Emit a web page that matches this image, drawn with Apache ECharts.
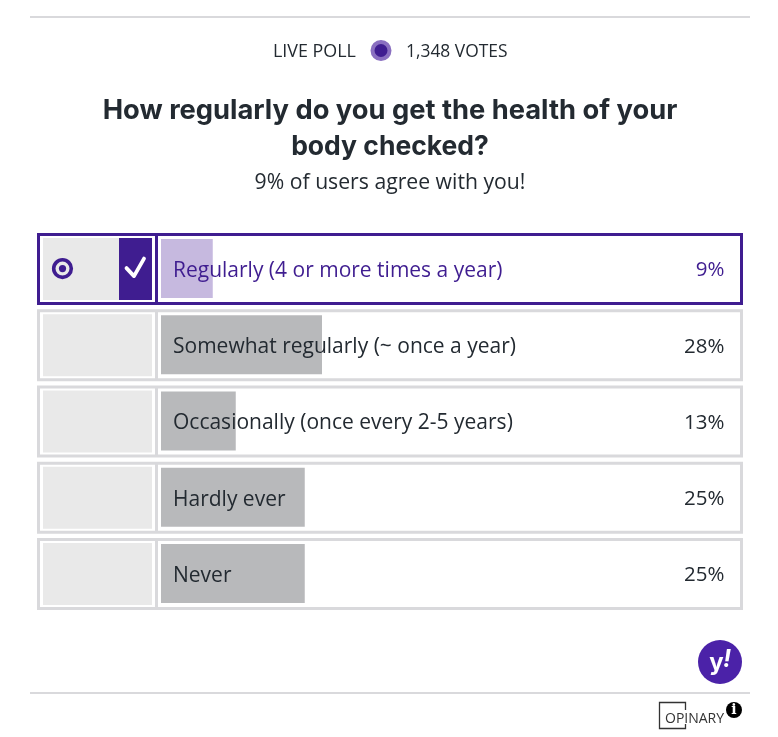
<!DOCTYPE html>
<html><head><meta charset="utf-8">
<style>html,body{margin:0;padding:0;background:#fff}#c{width:778px;height:737px}</style>
<script src="https://cdn.jsdelivr.net/npm/echarts@6/dist/echarts.min.js"></script>
</head><body><div id="c"></div>
<script>
const categories = ['Regularly (4 or more times a year)','Somewhat regularly (~ once a year)','Occasionally (once every 2-5 years)','Hardly ever','Never'];
const shares = [9,28,13,25,25];
const percentLabels = ['9%','28%','13%','25%','25%'];
const selectedIndex = 0;
const PURPLE='#3f1d90', GREY='#d9d9dc', PANEL='#e9e9e9', BAR='#b8b9bb', TEXT='#232a31', FONT='"Open Sans"';
const chart = echarts.init(document.getElementById('c'),null,{renderer:'canvas'});
chart.setOption({
  animation:false,
  backgroundColor:'#fff',
  grid:{left:161,top:230.5,width:575,height:381,containLabel:false},
  xAxis:{type:'value',min:0,max:100,show:false},
  yAxis:{type:'category',inverse:true,data:categories,axisLine:{show:false},axisTick:{show:false},splitLine:{show:false},axisLabel:{show:false}},
  series:[
    {type:'custom',z:1,coordinateSystem:'cartesian2d',encode:{x:0,y:1},silent:true,
     data:categories.map((c,i)=>[0,i]),
     renderItem(params,api){
       const i=api.value(1), p=api.coord([0,i]), x0=p[0], yc=p[1], sel=i===selectedIndex, col=sel?PURPLE:GREY;
       const kids=[
         {type:'rect',shape:{x:x0-122.5,y:yc-34,width:703,height:69},style:{fill:'#fff',stroke:col,lineWidth:3}},
         {type:'rect',shape:{x:x0-6,y:yc-34,width:3,height:69},style:{fill:col}},
         {type:'rect',shape:{x:x0-118,y:yc-30.5,width:109,height:62},style:{fill:PANEL}}
       ];
       if(sel){
         kids.push({type:'rect',shape:{x:x0-42,y:yc-30.5,width:33,height:62},style:{fill:PURPLE}});
         kids.push({type:'circle',shape:{cx:x0-98.5,cy:yc,r:8.8},style:{fill:'none',stroke:PURPLE,lineWidth:3.6}});
         kids.push({type:'circle',shape:{cx:x0-98.5,cy:yc,r:3.6},style:{fill:PURPLE}});
         kids.push({type:'polyline',shape:{points:[[x0-34.5,yc-0.5],[x0-27,yc+7.5],[x0-17,yc-10]]},style:{fill:'none',stroke:'#fff',lineWidth:3.8,lineCap:'round',lineJoin:'round'}});
       }
       return {type:'group',children:kids};
     }},
    {type:'bar',z:2,data:shares.map((v,i)=>({value:v,itemStyle:{color:i===selectedIndex?'#c6b9df':BAR}})),barWidth:59,silent:true},
    {type:'custom',z:3,coordinateSystem:'cartesian2d',encode:{x:0,y:1},silent:true,
     data:categories.map((c,i)=>[0,i]),
     renderItem(params,api){
       const i=api.value(1), a=api.coord([0,i]), b=api.coord([100,i]), col=i===selectedIndex?PURPLE:TEXT;
       return {type:'group',children:[
         {type:'text',style:{x:a[0]+12,y:a[1]+2.5,text:categories[i],font:'21px '+FONT,fill:col,textAlign:'left',textVerticalAlign:'middle'}},
         {type:'text',style:{x:b[0]-11.5,y:a[1]+2,text:percentLabels[i],font:'20.5px '+FONT,fill:col,textAlign:'right',textVerticalAlign:'middle'}}
       ]};
     }}
  ],
  graphic:[
    {type:'rect',shape:{x:30,y:16,width:720,height:2},style:{fill:GREY}},
    {type:'rect',shape:{x:30,y:692,width:720,height:2},style:{fill:GREY}},
    {type:'text',x:273,y:52,style:{text:'LIVE POLL',font:'17.9px '+FONT,fill:TEXT,textVerticalAlign:'middle'}},
    {type:'circle',shape:{cx:381,cy:50.5,r:8.5},style:{fill:PURPLE,stroke:'#8a6fc0',lineWidth:4}},
    {type:'text',x:406,y:52,style:{text:'1,348 VOTES',font:'17.4px '+FONT,fill:TEXT,textVerticalAlign:'middle'}},
    {type:'text',x:390,y:111,style:{text:'How regularly do you get the health of your',font:'bold 27.3px Inter',fill:TEXT,textAlign:'center',textVerticalAlign:'middle'}},
    {type:'text',x:390,y:147,style:{text:'body checked?',font:'bold 26.5px Inter',fill:TEXT,textAlign:'center',textVerticalAlign:'middle'}},
    {type:'text',x:390,y:183,style:{text:'9% of users agree with you!',font:'21.2px '+FONT,fill:TEXT,textAlign:'center',textVerticalAlign:'middle'}},
    {type:'circle',shape:{cx:720,cy:662,r:22},style:{fill:'#4b22a8'}},
    {type:'text',x:716.5,y:663,style:{text:'y',font:'bold 24px Inter',fill:'#fff',textAlign:'center',textVerticalAlign:'middle'}},
    {type:'text',x:727,y:660,style:{text:'!',font:'italic bold 24px Inter',fill:'#fff',textAlign:'center',textVerticalAlign:'middle'}},
    {type:'polyline',shape:{points:[[685.5,710],[685.5,702.5],[659.5,702.5],[659.5,728.5],[685.5,728.5],[685.5,724]]},style:{fill:'none',stroke:'#333',lineWidth:1.3}},
    {type:'text',x:665,y:719,style:{text:'OPINARY',font:'14px '+FONT,fill:'#333',textVerticalAlign:'middle'}},
    {type:'circle',shape:{cx:734,cy:710,r:8},style:{fill:'#000'}},
    {type:'text',x:734,y:710,style:{text:'i',font:'bold 14px "DejaVu Serif"',fill:'#fff',textAlign:'center',textVerticalAlign:'middle'}}
  ]
});
</script></body></html>
